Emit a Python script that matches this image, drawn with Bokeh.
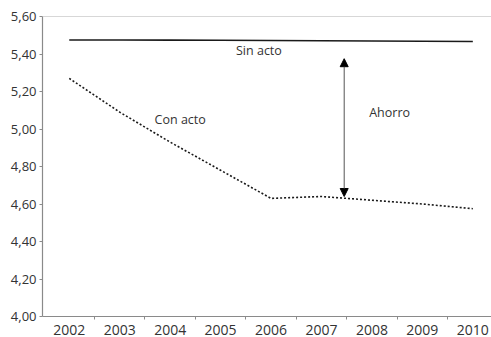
from bokeh.plotting import figure
from bokeh.models import FixedTicker, Span, Arrow, NormalHead, Label
from bokeh.embed import file_html
from bokeh.resources import INLINE

years = [2002, 2003, 2004, 2005, 2006, 2007, 2008, 2009, 2010]
sin_acto = [5.475, 5.475, 5.474, 5.473, 5.472, 5.471, 5.469, 5.468, 5.467]
con_acto = [5.27, 5.09, 4.93, 4.78, 4.63, 4.64, 4.62, 4.60, 4.575]
y_ticks = [4.0, 4.2, 4.4, 4.6, 4.8, 5.0, 5.2, 5.4, 5.6]
y_tick_labels = ["4,00", "4,20", "4,40", "4,60", "4,80", "5,00", "5,20", "5,40", "5,60"]
year_bounds = [2002.5, 2003.5, 2004.5, 2005.5, 2006.5, 2007.5, 2008.5, 2009.5]
ahorro_x = 2007.45
ahorro_top = 5.375
ahorro_bottom = 4.64

FONT = "Open Sans"
TXT = "#333333"
AX = "#8a8a8a"

p = figure(width=491, height=337, output_backend="svg", toolbar_location=None,
           x_range=(2001.47, 2010.37), y_range=(4.0, 5.6),
           min_border_left=42, min_border_right=0, min_border_top=16, min_border_bottom=10)
p.outline_line_color = None
p.grid.grid_line_color = None
p.background_fill_color = "white"

p.line(years, sin_acto, line_color="#1a1a1a", line_width=1.6)
p.line(years, con_acto, line_color="#1a1a1a", line_width=1.6, line_dash="2 2")

p.add_layout(Span(location=5.6, dimension="width", line_color="#b0b0b0", line_width=1.2))

p.add_layout(Arrow(x_start=ahorro_x, y_start=ahorro_bottom, x_end=ahorro_x, y_end=ahorro_top,
                   line_color="#555555", line_width=1,
                   start=NormalHead(size=8, fill_color="black", line_color="black"),
                   end=NormalHead(size=8, fill_color="black", line_color="black")))

for txt, x, y in [("Sin acto", 2005.76, 5.42), ("Con acto", 2004.2, 5.05), ("Ahorro", 2008.35, 5.09)]:
    p.add_layout(Label(x=x, y=y, text=txt, text_align="center", text_baseline="middle",
                       text_font=FONT, text_font_size="12.5px", text_color=TXT))

p.xaxis.ticker = FixedTicker(ticks=years, minor_ticks=year_bounds)
p.xaxis.major_tick_line_color = None
p.xaxis.minor_tick_line_color = AX
p.xaxis.minor_tick_out = 3
p.xaxis.minor_tick_in = 0
p.xaxis.major_label_text_font = FONT
p.xaxis.major_label_text_font_size = "14px"
p.xaxis.major_label_text_color = TXT
p.xaxis.major_label_standoff = 2
p.xaxis.axis_line_color = AX
p.xaxis.axis_line_width = 1.2

p.yaxis.ticker = FixedTicker(ticks=y_ticks)
p.yaxis.major_label_overrides = {t: l for t, l in zip(y_ticks, y_tick_labels)}
p.yaxis.minor_tick_line_color = None
p.yaxis.major_tick_line_color = AX
p.yaxis.major_tick_out = 3
p.yaxis.major_tick_in = 0
p.yaxis.major_label_text_font = FONT
p.yaxis.major_label_text_font_size = "13px"
p.yaxis.major_label_text_color = TXT
p.yaxis.major_label_standoff = 3
p.yaxis.axis_line_color = AX
p.yaxis.axis_line_width = 1.2

open("out.html", "w").write(file_html(p, INLINE))
